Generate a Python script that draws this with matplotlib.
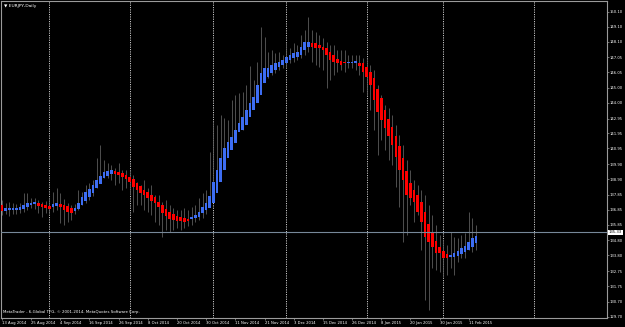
import matplotlib
matplotlib.use("Agg")
import matplotlib.pyplot as plt
import numpy as np

# grey price bars (EURJPY daily) - highs / lows
bar_high = [137.50, 137.30, 137.37, 137.30, 137.23, 137.30, 137.97, 137.97, 137.63, 137.63,
            137.50, 137.37, 137.43, 137.63, 138.04, 138.30, 137.97, 137.57, 137.30, 137.17,
            137.23, 138.17, 138.04, 138.50, 138.64, 138.84, 140.31, 141.18, 140.18, 139.98,
            139.84, 139.64, 139.98, 139.51, 139.51, 139.37, 139.17, 138.70, 138.50, 138.84,
            138.30, 138.50, 137.83, 137.83, 137.37, 137.50, 137.17, 136.96, 136.83, 136.83,
            136.96, 136.83, 137.03, 137.17, 137.63, 137.97, 138.17, 140.71, 142.65, 142.52,
            143.19, 142.99, 142.85, 144.19, 144.52, 144.66, 144.73, 145.19, 146.46, 145.53,
            146.73, 149.07, 148.40, 147.40, 147.53, 147.33, 147.40, 147.20, 148.07, 147.67,
            148.00, 147.87, 148.54, 148.87, 149.74, 148.87, 148.74, 148.54, 148.34, 148.07,
            147.87, 147.87, 147.53, 147.53, 147.53, 147.20, 147.20, 147.20, 147.20, 147.00,
            146.87, 146.53, 146.20, 145.19, 144.52, 143.86, 143.65, 143.19, 142.52, 141.85,
            141.18, 140.18, 139.51, 138.84, 138.50, 138.17, 137.83, 137.17, 136.50, 135.83,
            135.16, 134.82, 134.49, 135.36, 135.02, 134.96, 135.16, 135.29, 136.70, 136.30,
            135.83]
bar_low = [136.50, 136.56, 136.43, 136.56, 136.56, 136.63, 136.70, 136.83, 136.96, 136.90,
           136.63, 136.36, 136.63, 136.70, 136.70, 136.83, 135.96, 135.83, 136.03, 136.16,
           136.56, 136.83, 137.17, 137.30, 137.50, 137.77, 138.30, 138.84, 138.97, 138.97,
           138.84, 138.50, 138.64, 138.17, 138.30, 137.83, 136.70, 137.17, 137.17, 136.83,
           136.70, 136.50, 136.03, 135.83, 135.02, 135.49, 135.36, 135.49, 135.63, 135.49,
           135.63, 135.76, 135.83, 136.03, 136.16, 136.30, 136.56, 137.17, 137.83, 139.17,
           139.84, 140.31, 140.84, 140.98, 141.51, 142.32, 142.18, 142.72, 143.39, 143.65,
           144.19, 144.73, 145.53, 145.66, 145.86, 146.00, 146.20, 146.33, 146.33, 146.67,
           146.73, 146.87, 147.00, 147.20, 147.40, 146.73, 146.53, 146.40, 146.20, 144.99,
           145.53, 145.86, 146.06, 146.20, 146.06, 146.33, 146.33, 146.20, 145.86, 144.73,
           144.52, 143.52, 142.18, 140.51, 141.51, 140.84, 140.18, 139.84, 138.37, 137.03,
           134.69, 135.16, 137.17, 136.03, 136.50, 134.15, 130.81, 130.14, 132.95, 132.82,
           132.68, 132.42, 132.48, 132.95, 132.48, 133.35, 133.62, 133.62, 134.15, 134.02,
           134.15]

# Heiken Ashi bodies
ha_open = [137.17, 136.76, 136.83, 136.83, 136.83, 136.83, 136.90, 137.03, 137.17, 137.23,
           137.30, 137.23, 137.17, 137.10, 137.03, 137.10, 137.23, 137.17, 137.10, 136.96,
           136.76, 136.90, 137.17, 137.43, 137.70, 137.97, 138.30, 138.57, 138.97, 139.11,
           139.24, 139.44, 139.37, 139.31, 139.17, 139.04, 138.90, 138.64, 138.44, 138.17,
           138.04, 137.83, 137.70, 137.37, 137.17, 136.90, 136.70, 136.56, 136.43, 136.36,
           136.30, 136.23, 136.23, 136.30, 136.36, 136.63, 136.83, 136.96, 137.30, 137.97,
           138.70, 139.51, 140.31, 140.84, 141.31, 142.05, 142.18, 142.52, 143.05, 143.52,
           143.99, 144.52, 145.33, 145.73, 146.00, 146.20, 146.40, 146.53, 146.67, 146.87,
           147.00, 147.07, 147.20, 147.53, 147.74, 148.00, 148.00, 147.87, 147.74, 147.67,
           147.40, 147.20, 146.93, 146.80, 146.73, 146.67, 146.67, 146.67, 146.67, 146.67,
           146.40, 146.06, 145.66, 144.93, 144.32, 143.52, 142.92, 142.38, 141.78, 141.11,
           140.31, 139.44, 138.64, 138.17, 137.83, 137.37, 136.70, 135.89, 135.29, 134.76,
           134.36, 134.09, 133.89, 133.69, 133.69, 133.75, 133.89, 134.02, 134.15, 134.36,
           134.62]
ha_close = [136.76, 136.96, 136.96, 136.96, 136.96, 137.03, 137.17, 137.30, 137.30, 137.37,
            137.10, 137.03, 136.96, 136.90, 137.23, 137.30, 137.03, 136.83, 136.70, 136.63,
            136.96, 137.30, 137.70, 138.04, 138.24, 138.50, 138.84, 139.11, 139.37, 139.44,
            139.51, 139.24, 139.17, 139.04, 138.90, 138.70, 138.37, 138.17, 137.97, 137.83,
            137.63, 137.43, 137.30, 137.03, 136.63, 136.43, 136.23, 136.16, 136.10, 136.10,
            136.03, 136.10, 136.36, 136.50, 136.70, 137.03, 137.30, 137.77, 138.70, 139.51,
            140.31, 140.98, 141.38, 141.71, 142.18, 142.65, 143.05, 143.52, 143.99, 144.39,
            145.19, 146.00, 146.33, 146.33, 146.53, 146.67, 146.73, 146.87, 147.07, 147.20,
            147.33, 147.40, 147.74, 148.07, 148.07, 147.74, 147.67, 147.67, 147.53, 147.20,
            146.87, 146.73, 146.67, 146.53, 146.67, 146.73, 146.73, 146.80, 146.46, 146.06,
            145.73, 145.19, 144.19, 143.39, 142.85, 142.32, 141.78, 141.18, 140.38, 139.51,
            138.84, 137.83, 137.63, 137.37, 136.70, 136.03, 135.02, 134.69, 134.36, 133.95,
            133.95, 133.62, 133.62, 133.82, 133.95, 134.09, 134.29, 134.42, 134.69, 134.96,
            135.09]

bid = 135.33
price_labels = ["150.10", "149.10", "148.10", "147.05", "146.05", "145.00", "144.00",
                "142.95", "141.95", "140.95", "139.90", "138.90", "137.85", "136.85",
                "135.85", "134.80", "133.80", "132.75", "131.75", "130.70", "129.70"]
date_labels = ["13 Aug 2014", "25 Aug 2014", "4 Sep 2014", "16 Sep 2014", "26 Sep 2014",
               "8 Oct 2014", "20 Oct 2014", "30 Oct 2014", "11 Nov 2014", "21 Nov 2014",
               "3 Dec 2014", "15 Dec 2014", "26 Dec 2014", "8 Jan 2015", "20 Jan 2015",
               "30 Jan 2015", "11 Feb 2015"]
month_start_bars = [13, 35, 58, 78, 100, 121, 146]

x = np.arange(len(bar_high))
ha_open = np.array(ha_open)
ha_close = np.array(ha_close)
up = ha_close >= ha_open

fig = plt.figure(figsize=(6.25, 3.27), dpi=100, facecolor="black")
ax = fig.add_axes([0.0024, 0.0275, 0.9688, 0.968])
ax.set_facecolor("black")

# period separators
for xb in month_start_bars:
    ax.axvline(xb, color="#c8c8c8", lw=0.7, ls=(0, (1.2, 1.2)), zorder=1)

ax.vlines(x, bar_low, bar_high, color="#5c5c5c", lw=0.6, zorder=2)

body_col = np.where(up, "#3d6df2", "#ff0000")
height = ha_close - ha_open
height = np.where(np.abs(height) < 0.05, 0.05 * np.sign(height + 1e-9), height)
ax.bar(x, height, bottom=ha_open, width=0.72, color=body_col, linewidth=0, zorder=3)

ax.axhline(bid, color="#778899", lw=0.8, zorder=4)

ax.set_xlim(-0.11, 165.9)
ax.set_ylim(129.61, 150.78)

for s in ax.spines.values():
    s.set_color("#9a9a9a")
    s.set_linewidth(0.8)

ax.yaxis.tick_right()
ax.set_yticks([float(v) for v in price_labels])
ax.set_yticklabels(price_labels)
ax.tick_params(axis="y", colors="#9a9a9a", length=1.5, width=0.5, pad=0.6, labelsize=2.7,
               labelcolor="white")
ax.set_xticks(list(range(0, len(x), 8)))
ax.set_xticklabels(date_labels)
ax.tick_params(axis="x", colors="#9a9a9a", length=1.5, width=0.5, pad=0.6, labelsize=2.7,
               labelcolor="white")
for lbl in ax.get_xticklabels():
    lbl.set_ha("left")

ax.text(1.003, bid, f"{bid:.2f}", transform=ax.get_yaxis_transform(), fontsize=2.7,
        color="black", va="center", ha="left",
        bbox=dict(boxstyle="square,pad=0.15", fc="white", ec="none"))

fig.text(0.007, 0.983, "\u25bc EURJPY,Daily", color="white", fontsize=3.2, va="center")
ax.text(0.002, 0.012, "MetaTrader - 6-Global TFG, \u00a9 2001-2014, MetaQuotes Software Corp.",
        transform=ax.transAxes, color="white", fontsize=2.8, va="bottom")

fig.savefig("out.png", dpi=100, facecolor="black")
